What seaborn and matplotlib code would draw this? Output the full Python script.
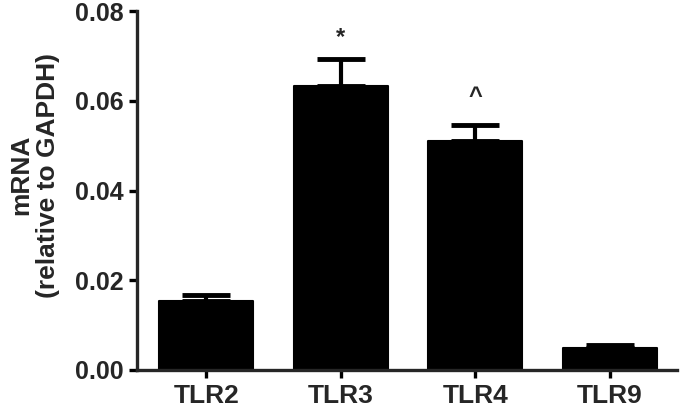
import matplotlib
matplotlib.use("Agg")
import matplotlib.pyplot as plt
import seaborn as sns
import pandas as pd

# values
genes = ["TLR2", "TLR3", "TLR4", "TLR9"]
mrna = [0.0154, 0.0633, 0.0510, 0.0049]
sem = [0.0014, 0.0060, 0.0036, 0.0006]
marks = ["", "*", "^", ""]
yticks = [0.00, 0.02, 0.04, 0.06, 0.08]

sns.set_style("ticks")
plt.rcParams["font.family"] = ["Liberation Sans", "DejaVu Sans"]
plt.rcParams["font.weight"] = "bold"

df = pd.DataFrame({"gene": genes, "mrna": mrna})

fig = plt.figure(figsize=(6.8, 4.11), dpi=100)
ax = fig.add_axes([0.2015, 0.0998, 0.794, 0.873])

sns.barplot(data=df, x="gene", y="mrna", color="black", saturation=1,
            width=0.70, errorbar=None, ax=ax, edgecolor="black", linewidth=1.5)
for p in ax.patches:
    p.set_joinstyle("round")

# upper error bars only
ax.errorbar(range(len(genes)), mrna, yerr=[[0] * len(genes), sem], fmt="none",
            ecolor="black", elinewidth=3, capsize=17, capthick=3.5)

# significance marks (the asterisk glyph sits high, so nudge it down)
for i, m in enumerate(marks):
    if m:
        gap = 0.0022 if m == "*" else 0.0038
        ax.text(i, mrna[i] + sem[i] + gap, m, ha="center", va="bottom",
                fontsize=17, fontweight="bold")

ax.set_ylim(0, 0.08)
ax.set_xlim(-0.515, 3.5)
ax.set_yticks(yticks)
ax.set_yticklabels([f"{v:.2f}" for v in yticks], fontsize=18, fontweight="bold")
ax.set_xticks(range(len(genes)))
ax.set_xticklabels(genes, fontsize=19, fontweight="bold")
ax.set_xlabel("")
ax.set_ylabel("")
ax.tick_params(axis="both", width=2.4, length=5.8, pad=4, color="black")
sns.despine(ax=ax)
for s in ["left", "bottom"]:
    ax.spines[s].set_linewidth(2.4)

fig.text(35 / 680, 1 - 175 / 411, "mRNA\n(relative to GAPDH)", rotation=90,
         ha="center", va="center", multialignment="center",
         fontsize=19, fontweight="bold", linespacing=1.15)

fig.savefig("out.png", dpi=100)
